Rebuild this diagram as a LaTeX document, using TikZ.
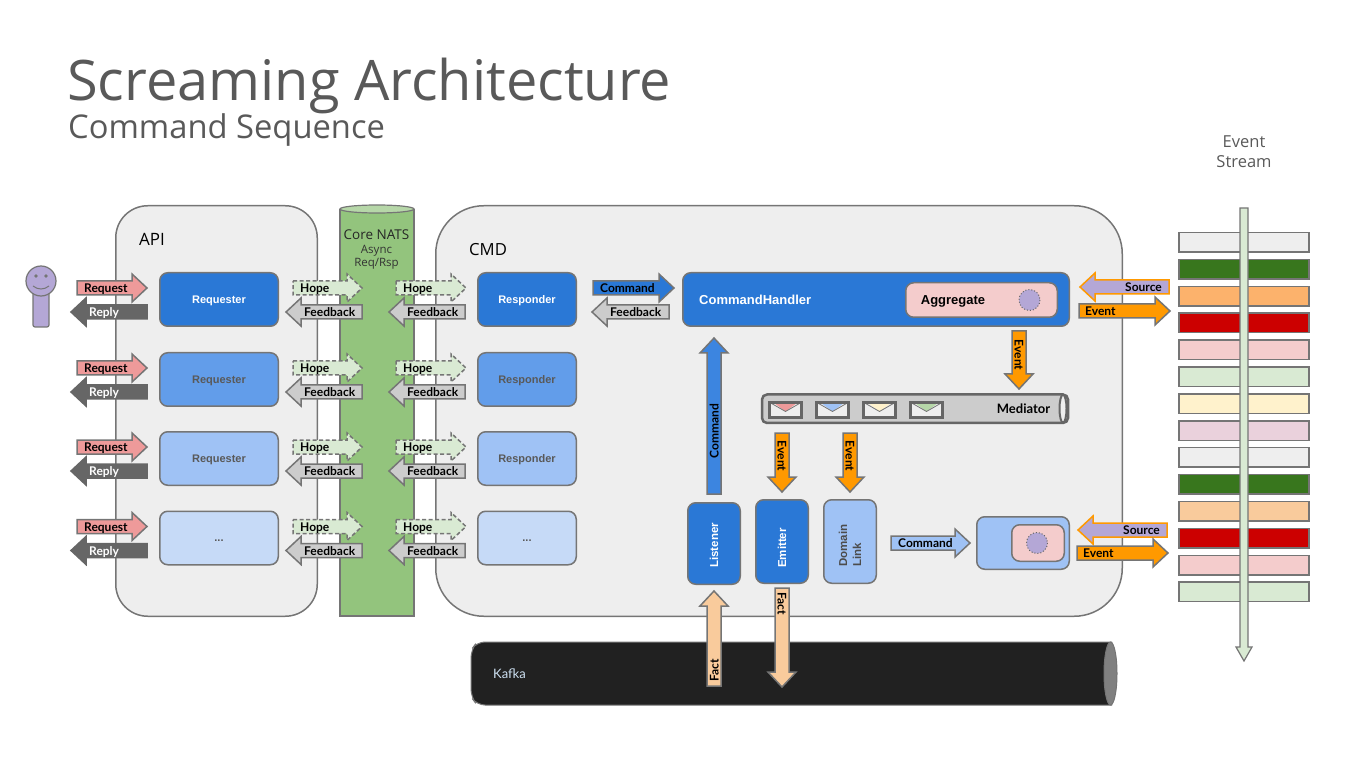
\documentclass[tikz,border=0pt]{standalone}
\usepackage{fontspec}
\setmainfont{Open Sans}
\newfontfamily\lbl{Lato}[BoldFont={Lato Bold}]
\newfontfamily\arl{Liberation Sans}
\usetikzlibrary{calc}
\definecolor{edge}{HTML}{757575}
\definecolor{lt}{HTML}{EEEEEE}
\definecolor{dblue}{HTML}{2A78D6}
\definecolor{mblue}{HTML}{629DEA}
\definecolor{lblue}{HTML}{9FC2F5}
\definecolor{vblue}{HTML}{C6DAF7}
\definecolor{salmon}{HTML}{EE9A9A}
\definecolor{hopeg}{HTML}{D9EAD3}
\definecolor{fbg}{HTML}{CCCCCC}
\definecolor{purp}{HTML}{B4A7D6}
\definecolor{orng}{HTML}{FF9900}
\definecolor{peach}{HTML}{F9CB9C}
\definecolor{pinkb}{HTML}{F4CCCC}
\definecolor{title}{HTML}{595959}
\definecolor{natsg}{HTML}{93C47D}
\definecolor{natst}{HTML}{B6D7A8}
\definecolor{cmdb}{HTML}{3C85E0}
\definecolor{envy}{HTML}{FFF2CC}
\definecolor{kfkt}{HTML}{CFE2F3}
\newcounter{nn}
\tikzset{
  x=1pt,y=-1pt,
  arrowshape/.style={draw=edge,line width=1.5pt,line join=miter},
  lab/.style={font=\lbl\bfseries\fontsize{12}{13}\selectfont,inner sep=0pt,text height=10pt,text depth=1pt},
  box/.style={draw=edge,line width=1.5pt,rounded corners=8pt,inner sep=0pt,align=center,font=\arl\bfseries\fontsize{11}{13}\selectfont,text height=10pt,text depth=2.3pt},
  vlab/.style={rotate=90,anchor=west,inner sep=0pt,font=\arl\bfseries\fontsize{11.5}{13}\selectfont},
  req/.style={arrowshape,fill=salmon},
  rep/.style={arrowshape,fill=black!60,draw=black!60},
  hope/.style={arrowshape,fill=hopeg,dashed,dash pattern=on 4pt off 2.5pt},
  fdb/.style={arrowshape,fill=fbg},
  src/.style={arrowshape,fill=purp,draw=orng},
  evt/.style={arrowshape,fill=orng},
}
% right-pointing block arrow: left x, tip x, centre y, style, text x, label, text colour
\newcommand\RA[7]{\stepcounter{nn}
  \draw[#4] ({#1},{#3-7}) -- ({#2-15},{#3-7}) -- ({#2-15},{#3-14}) -- ({#2},{#3}) -- ({#2-15},{#3+14}) -- ({#2-15},{#3+7}) -- ({#1},{#3+7}) -- cycle;
  \node[lab,anchor=west,text=#7] (t\thenn) at (#5,#3) {#6};}
% left-pointing block arrow: tip x, right x, centre y, ...
\newcommand\LA[7]{\stepcounter{nn}
  \draw[#4] ({#2},{#3-7}) -- ({#1+15},{#3-7}) -- ({#1+15},{#3-14}) -- ({#1},{#3}) -- ({#1+15},{#3+14}) -- ({#1+15},{#3+7}) -- ({#2},{#3+7}) -- cycle;
  \node[lab,anchor=west,text=#7] (t\thenn) at (#5,#3) {#6};}
% down arrow: centre x, top y, tip y, style, text y, label
\newcommand\DA[6]{\stepcounter{nn}
  \draw[#4] ({#1-7},{#2}) -- ({#1+7},{#2}) -- ({#1+7},{#3-15}) -- ({#1+14},{#3-15}) -- ({#1},{#3}) -- ({#1-14},{#3-15}) -- ({#1-7},{#3-15}) -- cycle;
  \node[lab,rotate=-90] (t\thenn) at (#1,#5) {#6};}
% up arrow: centre x, tip y, bottom y, style, text y, label
\newcommand\UA[6]{\stepcounter{nn}
  \draw[#4] ({#1-7},{#3}) -- ({#1+7},{#3}) -- ({#1+7},{#2+15}) -- ({#1+14},{#2+15}) -- ({#1},{#2}) -- ({#1-14},{#2+15}) -- ({#1-7},{#2+15}) -- cycle;
  \node[lab,rotate=90] (t\thenn) at (#1,#5) {#6};}
% box by corners: name, x0,y0,x1,y1, style, text
\newcommand\BX[7]{\pgfmathsetmacro\bw{#4-#2-1.5}\pgfmathsetmacro\bh{#5-#3-1.5}
  \node[box,minimum width=\bw pt,minimum height=\bh pt,#6] (#1) at ({(#2+#4)/2},{(#3+#5)/2}) {#7};}
% one row
\newcommand\ROW[6]{%
  \RA{77}{147}{#1+16}{req}{84}{Request}{black}
  \LA{71}{147}{#1+40}{rep}{89}{Reply}{white}
  \BX{rq#2}{159}{#1}{279}{#1+55}{fill=#3}{\textcolor{#4}{#5}}
  \RA{293}{362}{#1+16}{hope}{300}{Hope}{black}
  \LA{286}{362}{#1+40}{fdb}{304}{Feedback}{black}
  \RA{396}{466}{#1+16}{hope}{403}{Hope}{black}
  \LA{389}{465}{#1+40}{fdb}{407}{Feedback}{black}
  \BX{rs#2}{477}{#1}{577}{#1+55}{fill=#3}{\textcolor{#4}{#6}}
}
% envelope
\newcommand\ENV[2]{\stepcounter{nn}
  \fill[lt] (#1,402) rectangle ({#1+33},418);
  \fill[#2] ({#1+5},403) -- ({#1+28},403) -- ({#1+16.5},411.5) -- cycle;
  \draw[edge,line width=.8pt] (#1,402) -- ({#1+16.5},411.5) -- ({#1+33},402);
  \draw[black!60,line width=3pt] ({#1+.5},402.5) rectangle ({#1+32.5},417.5);}
\begin{document}
\begin{tikzpicture}
\useasboundingbox (0,0) rectangle (1353,759);
% titles
\node[anchor=base west,inner sep=0pt,text=title,font=\fontsize{55.9}{60}\selectfont] (ttl) at (67,101) {Screaming Architecture};
\node[anchor=base west,inner sep=0pt,text=title,font=\fontsize{32.7}{34}\selectfont] (sub) at (68,139) {Command Sequence};
\node[align=center,inner sep=0pt,text=title,font=\fontsize{16.5}{20}\selectfont] (es) at (1244,151.5) {Event\\Stream};
% containers
\BX{api}{115}{205}{318}{617}{fill=lt,rounded corners=32pt}{}
\BX{cmd}{435}{205}{1123}{617}{fill=lt,rounded corners=48pt}{}
\node[anchor=west,inner sep=0pt,font=\fontsize{17}{19}\selectfont] (apil) at (139,239.5) {API};
\node[anchor=west,inner sep=0pt,font=\fontsize{16.7}{19}\selectfont] (cmdl) at (469,249.5) {CMD};
% NATS cylinder
\draw[fill=natsg,draw=edge,line width=1.5pt] (340,209) -- (340,616) -- (414,616) -- (414,209);
\draw[draw=edge,line width=1.2pt,fill=natst] (377,209) ellipse (37 and 4);
\node[inner sep=0pt,font=\fontsize{13.5}{15}\selectfont,text=black!85] (nats) at (376.5,235) {Core NATS};
\node[inner sep=0pt,align=center,font=\fontsize{11.5}{13}\selectfont,text=black!80] (nats2) at (376.5,257) {Async\\Req/Rsp};
% actor
\draw[draw=edge,line width=1.2pt,fill=purp,rounded corners=2pt] (33,290) rectangle (49,327);
\draw[draw=edge,line width=1.2pt,fill=purp] (41,281) circle (15);
\fill[edge] (36,276) circle (1.8) (46,276) circle (1.8);
\draw[edge,line width=1pt] (33,286) .. controls (38,290) and (44,290) .. (49,286);
% rows
\ROW{272}{a}{dblue}{white}{Requester}{Responder}
\ROW{352}{b}{mblue}{black!65}{Requester}{Responder}
\ROW{431}{c}{lblue}{black!65}{Requester}{Responder}
\ROW{510.5}{d}{vblue}{black!65}{...}{...}
% responder arrows
\RA{593}{674}{288}{arrowshape,fill=dblue}{600}{Command}{black}
\LA{592}{669}{312}{fdb}{610}{Feedback}{black}
% handler
\BX{ch}{682}{272}{1070}{327}{fill=dblue}{}
\node[anchor=west,inner sep=0pt,text=white,font=\arl\bfseries\fontsize{13}{15}\selectfont] (chl) at (699,299.5) {CommandHandler};
\BX{agg}{905}{282}{1058}{318}{fill=pinkb}{}
\node[inner sep=0pt,text=black,font=\arl\bfseries\fontsize{13}{15}\selectfont] (aggl) at (953,301) {Aggregate};
\draw[black!60,dotted,line width=1pt,fill=purp] (1029.5,300) circle (10.5);
\LA{1080}{1169}{287}{src}{1125}{Source}{black}
\RA{1079}{1170}{311}{evt}{1085}{Event}{black}
\DA{1019}{331}{389}{evt}{355}{Event}
% mediator
\draw[black!60,line width=2.5pt,fill=fbg,rounded corners=5pt] (762,394.5) rectangle (1068,423);
\draw[black!60,line width=2pt,fill=lt] (1063,408.7) ellipse (3.5 and 14);
\ENV{769}{salmon}\ENV{816}{lblue}\ENV{863}{envy}\ENV{910}{natst}
\node[lab,font=\lbl\bfseries\fontsize{13}{14}\selectfont] (medl) at (1023.5,409) {Mediator};
% lower boxes
\UA{714}{338}{494}{arrowshape,fill=cmdb}{431}{Command}
\DA{782}{433}{492}{evt}{456}{Event}
\DA{850}{433}{492}{evt}{456}{Event}
\BX{lis}{687}{502}{741}{585}{fill=dblue}{}
\BX{emi}{755}{499}{809}{584}{fill=dblue}{}
\BX{dom}{823}{499}{877}{584}{fill=lblue}{}
\node[vlab,text=white] (lisl) at (714,568) {Listener};
\node[vlab,text=white] (emil) at (782,568) {Emitter};
\node[vlab,text=black!70] (doml) at (843,567) {Domain};
\node[vlab,text=black!70] (lnkl) at (857,567) {Link};
\RA{891}{970}{543}{arrowshape,fill=lblue}{898}{Command}{black}
\BX{sm}{976}{516}{1070}{570}{fill=lblue}{}
\BX{sma}{1011}{524}{1065}{562}{fill=pinkb}{}
\draw[black!60,dotted,line width=1pt,fill=purp] (1037,543) circle (10.5);
\LA{1078}{1167}{530}{src}{1123}{Source}{black}
\RA{1077}{1168}{553}{evt}{1083}{Event}{black}
% Kafka
\draw[edge,line width=1pt,fill=black!87,rounded corners=8pt] (1112,642) -- (477,642) -- (471,650) -- (471,697) -- (477,705) -- (1112,705);
\draw[edge,line width=1pt,fill=black!50] (1110.5,673.5) ellipse (6.5 and 31.5);
\node[anchor=west,inner sep=0pt,text=kfkt,font=\lbl\fontsize{13}{15}\selectfont] (kfk) at (493,674) {Kafka};
\UA{714}{591}{686}{arrowshape,fill=peach}{670}{Fact}
\DA{782}{588}{687}{arrowshape,fill=peach}{604}{Fact}
% stream
\foreach \i/\c in {0/EEEEEE,1/38761D,2/FCB26C,3/CC0000,4/F4CCCC,5/D9EAD3,6/FFF2CC,7/EAD1DC,8/EEEEEE,9/38761D,10/F9CB9C,11/CC0000,12/F4CCCC,13/D9EAD3}{
  \definecolor{cc}{HTML}{\c}
  \draw[edge,line width=1.5pt,fill=cc] (1179,{232.5+26.9*\i}) rectangle (1309,{252+26.9*\i});
}
\draw[arrowshape,fill=hopeg,line width=1.2pt] (1240,208) -- (1248,208) -- (1248,647) -- (1252,647) -- (1244,661) -- (1236,647) -- (1240,647) -- cycle;
\end{tikzpicture}
\end{document}
